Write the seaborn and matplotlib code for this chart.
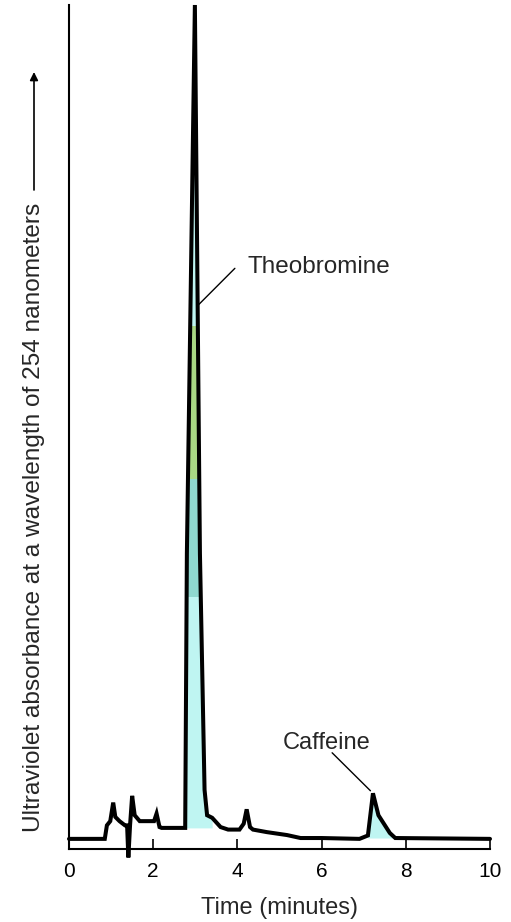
import numpy as np
import pandas as pd
import matplotlib
matplotlib.use("Agg")
import matplotlib.pyplot as plt
from matplotlib.patches import Rectangle
import seaborn as sns

# ---- data ----
time_min = [0.00, 0.85, 0.90, 0.98, 1.05, 1.10, 1.20, 1.33, 1.38, 1.41, 1.45,
            1.50, 1.56, 1.68, 2.02, 2.08, 2.15, 2.20, 2.76, 2.80, 2.99, 3.11,
            3.22, 3.28, 3.40, 3.60, 3.78, 4.05, 4.15, 4.22, 4.30, 4.37, 4.70,
            5.18, 5.50, 6.00, 6.90, 7.10, 7.22, 7.35, 7.62, 7.75, 10.00]
absorbance = [1.2, 1.2, 2.8, 3.3, 5.5, 3.8, 3.3, 2.8, 2.8, -1.0, 2.8,
              6.3, 4.0, 3.3, 3.3, 4.2, 2.6, 2.5, 2.5, 35.0, 100.0, 35.0,
              7.0, 4.0, 3.7, 2.6, 2.3, 2.3, 3.0, 4.7, 2.6, 2.3, 2.0,
              1.65, 1.3, 1.3, 1.2, 1.6, 6.6, 4.0, 1.9, 1.3, 1.2]
x_ticks = [0, 2, 4, 6, 8, 10]
x_tick_labels = ["0", "2", "4", "6", "8", "10"]
peak_names = ["Theobromine", "Caffeine"]

df = pd.DataFrame({"Time": time_min, "Absorbance": absorbance})

sns.set_style("white")
plt.rcParams["font.family"] = ["Liberation Sans", "DejaVu Sans"]

W, H = 511, 922
fig = plt.figure(figsize=(W / 100, H / 100), dpi=100)
ax = fig.add_axes([69 / W, (H - 849) / H, 421 / W, 844 / H])

# pale coloured fill inside the peaks
t = np.array(time_min)
a = np.array(absorbance)
m1 = (t >= 2.76) & (t <= 3.40)
ax.fill_between(t[m1], 2.5, a[m1], color="#bff5f2", lw=0, zorder=1)
g = ax.fill_between(t[m1], 2.5, a[m1], color="#a9d884", lw=0, zorder=1.5)
g.set_clip_path(Rectangle((2.5, 44), 1.5, 18, transform=ax.transData))
t2 = ax.fill_between(t[m1], 2.5, a[m1], color="#8fd8cf", lw=0, zorder=1.4)
t2.set_clip_path(Rectangle((2.5, 30), 1.5, 14, transform=ax.transData))
m2 = (t >= 7.10) & (t <= 7.75)
ax.fill_between(t[m2], 1.3, a[m2], color="#bff5f2", lw=0, zorder=1)

sns.lineplot(data=df, x="Time", y="Absorbance", sort=False, estimator=None,
             color="black", lw=2.9, ax=ax, zorder=3)
for ln in ax.lines:
    ln.set_clip_on(False)
    ln.set_solid_joinstyle("miter")

ax.set_xlim(0, 10)
ax.set_ylim(0, 100)
ax.set_xticks(x_ticks)
ax.set_xticklabels(x_tick_labels)
ax.set_yticks([])
ax.tick_params(axis="x", direction="in", length=7, width=1.2, pad=9,
               labelsize=15, colors="black", bottom=True)
for s in ["top", "right"]:
    ax.spines[s].set_visible(False)
for s in ["left", "bottom"]:
    ax.spines[s].set_color("black")
    ax.spines[s].set_linewidth(1.5)
ax.set_xlabel("Time (minutes)", fontsize=17, labelpad=12)
ax.set_ylabel("")

# annotations: leader lines and labels
ax.annotate("", xy=(3.08, 64.5), xytext=(3.94, 68.8),
            arrowprops=dict(arrowstyle="-", lw=1.0, color="black",
                            shrinkA=0, shrinkB=0))
ax.text(4.23, 69.0, peak_names[0], fontsize=17.5, ha="left", va="center")
ax.annotate("", xy=(7.16, 6.9), xytext=(6.25, 11.4),
            arrowprops=dict(arrowstyle="-", lw=1.0, color="black",
                            shrinkA=0, shrinkB=0))
ax.text(6.13, 11.2, peak_names[1], fontsize=17, ha="center", va="bottom")

# y-axis label with arrow
fig.text(34 / W, (H - 832) / H,
         "Ultraviolet absorbance at a wavelength of 254 nanometers",
         rotation=90, ha="center", va="bottom", fontsize=17.6)
ax.annotate("", xy=(34, H - 72), xytext=(34, H - 190), xycoords="figure pixels",
            textcoords="figure pixels",
            arrowprops=dict(arrowstyle="-|>", lw=1.2, color="black",
                            mutation_scale=12, shrinkA=0, shrinkB=0))

fig.savefig("out.png", dpi=100)
